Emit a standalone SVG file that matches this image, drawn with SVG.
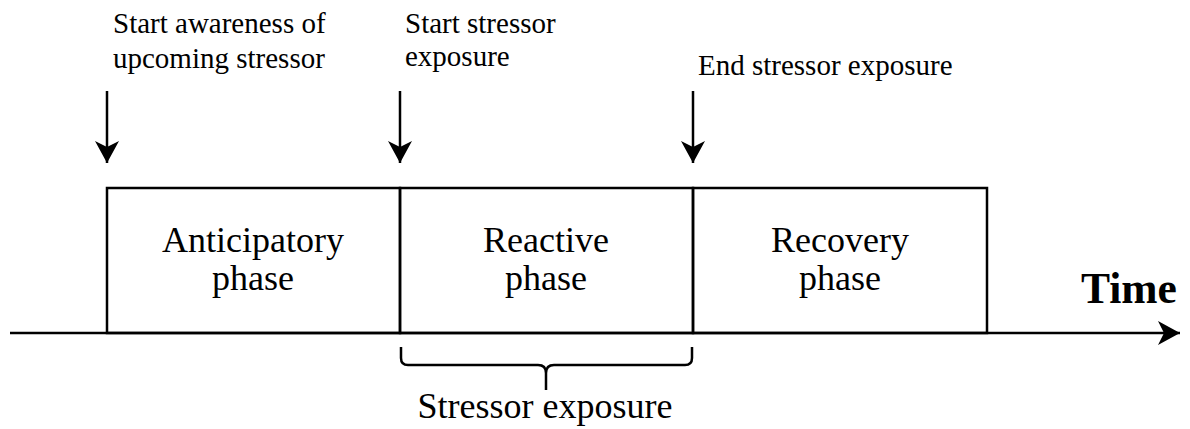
<svg xmlns="http://www.w3.org/2000/svg" width="1190" height="429" viewBox="0 0 1190 429">
<style>
.ln{stroke:#000;stroke-width:2.5;fill:none}
.lbl{font-family:"Liberation Serif","Times New Roman",serif;font-size:29px;fill:#000}
.ph{font-family:"Liberation Serif","Times New Roman",serif;font-size:36px;fill:#000;text-anchor:middle}
.tm{font-family:"Liberation Serif","Times New Roman",serif;font-size:43.5px;font-weight:bold;fill:#000}
</style>
<defs>
<marker id="ah" markerWidth="24" markerHeight="24" viewBox="0 0 24 24" refX="22" refY="12" orient="auto" markerUnits="userSpaceOnUse">
<path d="M0,0 L22,12 L0,24 L6,12 Z" fill="#000"/>
</marker>
</defs>
<rect width="1190" height="429" fill="#fff"/>
<g id="anticipatory">
<rect class="ln" x="107" y="188" width="293" height="145"/>
<text class="ph" x="253" y="252">Anticipatory</text>
<text class="ph" x="253" y="290">phase</text>
</g>
<g id="reactive">
<rect class="ln" x="400" y="188" width="293" height="145"/>
<text class="ph" x="546" y="252">Reactive</text>
<text class="ph" x="546" y="290">phase</text>
</g>
<g id="recovery">
<rect class="ln" x="693" y="188" width="294" height="145"/>
<text class="ph" x="840" y="252">Recovery</text>
<text class="ph" x="840" y="290">phase</text>
</g>
<g id="labels">
<text class="lbl" x="113" y="33">Start awareness of</text>
<text class="lbl" x="113" y="68">upcoming stressor</text>
<text class="lbl" x="405" y="33">Start stressor</text>
<text class="lbl" x="405" y="66">exposure</text>
<text class="lbl" x="698" y="75">End stressor exposure</text>
<text class="tm" x="1081" y="303">Time</text>
<text class="ph" x="545" y="418">Stressor exposure</text>
</g>
<g id="connectors">
<line class="ln" x1="10" y1="333" x2="1180" y2="333" marker-end="url(#ah)"/>
<line class="ln" x1="107" y1="91" x2="107" y2="163" marker-end="url(#ah)"/>
<line class="ln" x1="400" y1="91" x2="400" y2="163" marker-end="url(#ah)"/>
<line class="ln" x1="693" y1="91" x2="693" y2="163" marker-end="url(#ah)"/>
<path class="ln" d="M401,347 V358 Q401,365 408,365 H538 Q546,365 546,373 V390 M546,373 Q546,365 554,365 H685 Q692,365 692,358 V347"/>
</g>
</svg>
